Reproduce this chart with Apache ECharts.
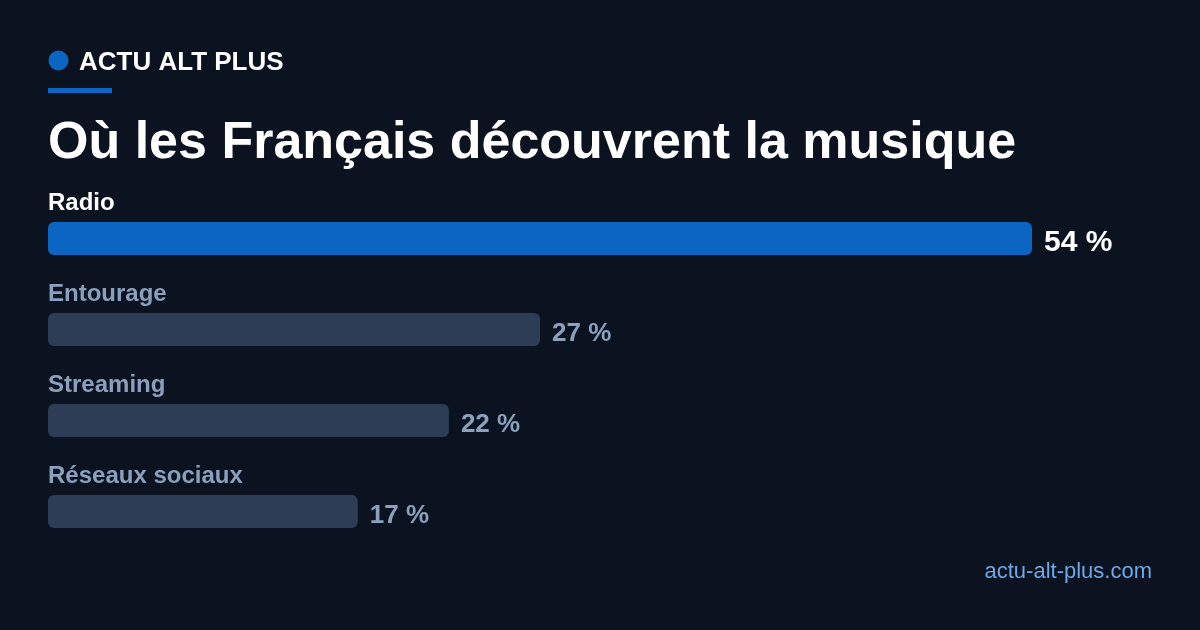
<!DOCTYPE html>
<html>
<head>
<meta charset="utf-8">
<script src="https://cdn.jsdelivr.net/npm/echarts@6/dist/echarts.min.js"></script>
<style>
  html, body { margin: 0; padding: 0; background: #0b1220; }
  #main { width: 1200px; height: 630px; }
</style>
</head>
<body>
<div id="main"></div>
<script>
// données
var categories = ["Radio", "Entourage", "Streaming", "Réseaux sociaux"];
var values = [54, 27, 22, 17];
var highlight = [true, false, false, false];

var FONT = "'Liberation Sans', Arial, sans-serif";
var BLUE = "#0a66c2";
var GREY_BAR = "#2d3d56";
var GREY_TXT = "#8aa0bc";

var chart = echarts.init(document.getElementById("main"));

var barData = values.map(function (v, i) {
  return {
    value: v,
    itemStyle: { color: highlight[i] ? BLUE : GREY_BAR },
    label: {
      color: highlight[i] ? "#ffffff" : GREY_TXT,
      fontSize: highlight[i] ? 30 : 26
    }
  };
});

var option = {
  backgroundColor: "#0b1220",
  animation: false,
  grid: { left: 48, right: 168, top: 193, bottom: 73 },
  xAxis: {
    type: "value",
    min: 0,
    max: 54,
    show: false
  },
  yAxis: {
    type: "category",
    inverse: true,
    data: categories,
    axisLine: { show: false },
    axisTick: { show: false },
    splitLine: { show: false },
    axisLabel: {
      inside: true,
      interval: 0,
      hideOverlap: false,
      margin: 0,
      align: "left",
      verticalAlign: "bottom",
      padding: [0, 0, 23, 0],
      fontFamily: FONT,
      fontSize: 24,
      fontWeight: "bold",
      color: function (val, idx) {
        return highlight[idx] ? "#ffffff" : GREY_TXT;
      }
    }
  },
  series: [
    {
      type: "bar",
      barWidth: 33,
      data: barData,
      itemStyle: { borderRadius: 6 },
      label: {
        show: true,
        position: "right",
        distance: 12,
        offset: [0, 4],
        fontFamily: FONT,
        fontWeight: "bold",
        formatter: "{c} %"
      }
    }
  ],
  graphic: [
    { type: "circle", shape: { cx: 58.5, cy: 60.5, r: 10 }, style: { fill: BLUE } },
    {
      type: "text", left: 79, top: 50,
      style: { text: "ACTU ALT PLUS", fill: "#ffffff", font: "bold 26px " + FONT }
    },
    { type: "rect", shape: { x: 48, y: 88, width: 64, height: 5 }, style: { fill: BLUE } },
    {
      type: "text", left: 48, top: 118,
      style: { text: "Où les Français découvrent la musique", fill: "#ffffff", font: "bold 52px " + FONT }
    },
    {
      type: "text", right: 48, top: 561,
      style: { text: "actu-alt-plus.com", fill: "#6fa8e6", font: "22px " + FONT }
    }
  ]
};

chart.setOption(option);
</script>
</body>
</html>
